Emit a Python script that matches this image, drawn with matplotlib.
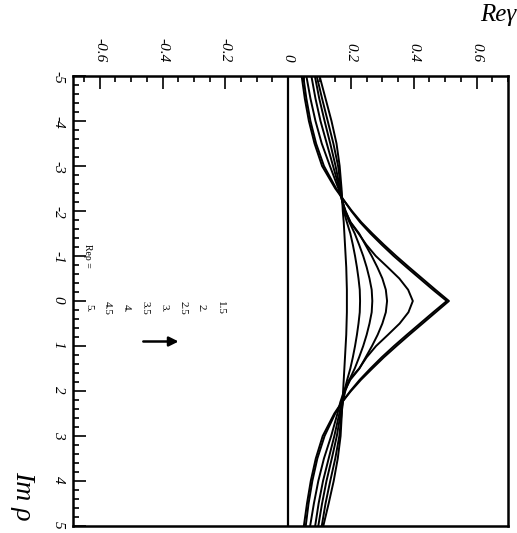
import matplotlib
matplotlib.use("Agg")
import matplotlib.pyplot as plt
from matplotlib.ticker import MultipleLocator

plt.rcParams['font.family'] = ['Liberation Serif', 'DejaVu Serif']
plt.rcParams['axes.unicode_minus'] = False

# Im rho sample points (vertical axis of the rotated scan)
im_rho = [-5, -4.5, -4, -3.5, -3, -2.5, -2.25, -2, -1.75, -1.5, -1.25, -1, -0.75, -0.5, -0.25, 0,
          0.25, 0.5, 0.75, 1, 1.25, 1.5, 1.75, 2, 2.25, 2.5, 3, 3.5, 4, 4.5, 5]

# Re gamma, one list per curve
re_15 = [0.043, 0.053, 0.066, 0.084, 0.108, 0.150, 0.176, 0.203, 0.233, 0.268, 0.305, 0.344, 0.385, 0.427, 0.469, 0.512,
         0.470, 0.428, 0.386, 0.345, 0.305, 0.268, 0.232, 0.200, 0.171, 0.147, 0.110, 0.088, 0.072, 0.060, 0.050]
re_20 = [0.048, 0.058, 0.071, 0.089, 0.114, 0.153, 0.176, 0.201, 0.229, 0.262, 0.298, 0.336, 0.377, 0.419, 0.461, 0.505,
         0.462, 0.420, 0.378, 0.337, 0.298, 0.262, 0.228, 0.198, 0.172, 0.150, 0.116, 0.093, 0.077, 0.065, 0.056]
re_25 = [0.058, 0.071, 0.087, 0.107, 0.133, 0.160, 0.171, 0.183, 0.198, 0.224, 0.249, 0.279, 0.317, 0.354, 0.382, 0.397,
         0.383, 0.355, 0.318, 0.280, 0.250, 0.226, 0.195, 0.178, 0.166, 0.157, 0.137, 0.114, 0.096, 0.082, 0.070]
re_30 = [0.074, 0.087, 0.103, 0.123, 0.143, 0.163, 0.171, 0.182, 0.199, 0.226, 0.246, 0.266, 0.284, 0.300, 0.311, 0.315,
         0.311, 0.300, 0.285, 0.267, 0.247, 0.227, 0.198, 0.180, 0.170, 0.163, 0.147, 0.129, 0.111, 0.097, 0.086]
re_35 = [0.085, 0.099, 0.116, 0.134, 0.151, 0.165, 0.172, 0.180, 0.195, 0.212, 0.226, 0.239, 0.250, 0.259, 0.266, 0.268,
         0.266, 0.259, 0.250, 0.239, 0.226, 0.212, 0.195, 0.182, 0.174, 0.167, 0.155, 0.139, 0.122, 0.108, 0.096]
re_40 = [0.091, 0.108, 0.126, 0.144, 0.159, 0.168, 0.172, 0.177, 0.187, 0.198, 0.206, 0.213, 0.219, 0.224, 0.228, 0.229,
         0.228, 0.224, 0.219, 0.213, 0.206, 0.198, 0.188, 0.179, 0.174, 0.170, 0.163, 0.150, 0.134, 0.119, 0.107]
re_45 = [0.100, 0.119, 0.138, 0.154, 0.164, 0.170, 0.172, 0.174, 0.177, 0.179, 0.181, 0.183, 0.185, 0.186, 0.187, 0.187,
         0.187, 0.186, 0.185, 0.183, 0.181, 0.179, 0.177, 0.175, 0.173, 0.171, 0.167, 0.158, 0.145, 0.129, 0.112]
curves = [re_15, re_20, re_25, re_30, re_35, re_40, re_45]

rho_labels = ['1.5', '2.', '2.5', '3.', '3.5', '4.', '4.5', '5.']

re_ticks = [-0.6, -0.4, -0.2, 0, 0.2, 0.4, 0.6]
re_tick_labels = ['-0.6', '-0.4', '-0.2', '0', '0.2', '0.4', '0.6']
im_ticks = [-5, -4, -3, -2, -1, 0, 1, 2, 3, 4, 5]
im_tick_labels = ['-5', '-4', '-3', '-2', '-1', '0', '1', '2', '3', '4', '5']

fig = plt.figure(figsize=(5.17, 5.33), dpi=100)
ax = fig.add_axes([73 / 517, 1 - 526 / 533, 435 / 517, 450 / 533])

for vals in curves:
    ax.plot(vals, im_rho, color='black', lw=1.4)
ax.axvline(0, color='black', lw=1.6)

ax.set_xlim(-0.685, 0.70)
ax.set_ylim(5, -5)

ax.set_xticks(re_ticks, re_tick_labels)
ax.set_yticks(im_ticks, im_tick_labels)
ax.xaxis.set_minor_locator(MultipleLocator(0.05))
ax.yaxis.set_minor_locator(MultipleLocator(0.2))
ax.xaxis.tick_top()
ax.tick_params(axis='x', which='both', direction='in', top=True, bottom=False,
               labeltop=True, labelbottom=False, labelrotation=-90, width=1.2)
ax.tick_params(axis='y', which='both', direction='in', left=True, right=False,
               labelrotation=-90, width=1.2)
ax.tick_params(axis='x', which='major', length=9, pad=10, labelsize=11)
ax.tick_params(axis='x', which='minor', length=4)
ax.tick_params(axis='y', which='major', length=9, pad=6, labelsize=11)
ax.tick_params(axis='y', which='minor', length=4)
for lab in ax.get_xticklabels() + ax.get_yticklabels():
    lab.set_fontstyle('italic')
for sp in ax.spines.values():
    sp.set_linewidth(1.8)

# legend-like annotation written inside the frame
ax.text(-0.638, -1.0, 'Reρ =', rotation=-90, fontsize=7, ha='center', va='center')
for i, lab in enumerate(rho_labels):
    ax.text(-0.216 - 0.06 * i, 0.15, lab, rotation=-90, fontsize=8,
            ha='center', va='center')
ax.annotate('', xy=(-0.34, 0.9), xytext=(-0.47, 0.9),
            arrowprops=dict(arrowstyle='-|>', color='black', lw=1.8, mutation_scale=14))

fig.text(0.998, 0.993, 'Reγ', ha='right', va='top', fontsize=18, style='italic')
fig.text(0.043, 0.069, 'Im ρ', rotation=-90, ha='center', va='center',
         fontsize=20, style='italic')

fig.savefig('out.png', dpi=100)
